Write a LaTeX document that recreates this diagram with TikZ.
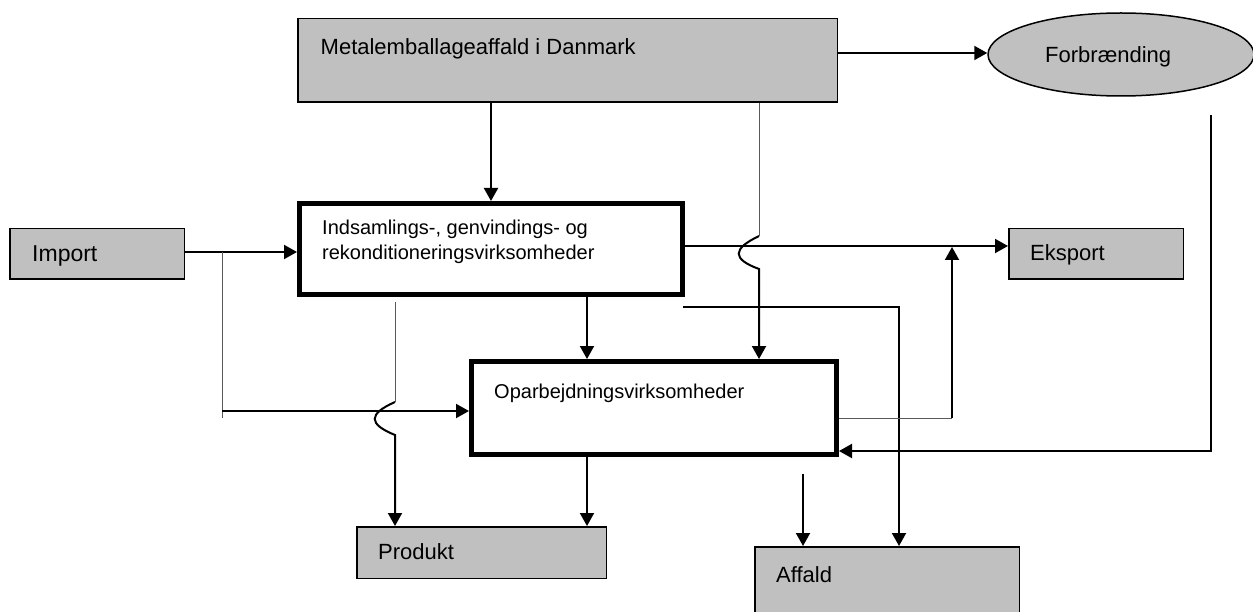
\documentclass[tikz,border=0pt]{standalone}
\usepackage{fontspec}
\setmainfont{Liberation Sans}
\usetikzlibrary{arrows.meta,shapes.geometric}
\definecolor{boxgray}{HTML}{C0C0C0}
\begin{document}
\begin{tikzpicture}[x=1pt,y=-1pt,
  gbox/.style={draw, line width=1.5pt, fill=boxgray, inner sep=0pt, anchor=north west},
  tbox/.style={draw, line width=5pt, fill=white, inner sep=0pt, anchor=north west},
  conn/.style={line width=2pt},
  arr/.style={line width=2pt, -{Triangle[length=13pt,width=14pt]}},
  thinline/.style={line width=1pt, black!65},
  lbl/.style={inner sep=0pt, anchor=base west},
  fa/.style={font=\fontsize{22}{26}\selectfont},
  fb/.style={font=\fontsize{20}{25}\selectfont},
  fc/.style={font=\fontsize{23}{27}\selectfont},
]
\useasboundingbox (0,0) rectangle (1253,612);
\clip (0,0) rectangle (1253,612);

% boxes
\node[gbox, minimum width=539.5pt, minimum height=83.5pt] (metal) at (297,18) {};
\node[draw, line width=1.5pt, fill=boxgray, ellipse, inner sep=0pt,
      minimum width=266pt, minimum height=83pt] (forb) at (1121,54.5) {};
\node[tbox, minimum width=383pt, minimum height=91pt] (ind) at (297,201) {};
\node[gbox, minimum width=174.5pt, minimum height=50.5pt] (imp) at (9,228) {};
\node[gbox, minimum width=174.5pt, minimum height=50.5pt] (eks) at (1008,228) {};
\node[tbox, minimum width=365pt, minimum height=93pt] (opar) at (469,359) {};
\node[gbox, minimum width=249.5pt, minimum height=51.5pt] (prod) at (356,526) {};
\node[gbox, minimum width=264.5pt, minimum height=102.5pt] (aff) at (754,546) {};

% texts
\node[lbl, fa] (metalt) at (320.5,55) {Metalemballageaffald i Danmark};
\node[lbl, fa] (forbt) at (1045,63) {Forbrænding};
\node[lbl, fb] (indt1) at (322,235) {Indsamlings-, genvindings- og};
\node[lbl, fb] (indt2) at (322,260) {rekonditioneringsvirksomheder};
\node[lbl, fc] (impt) at (32,262) {Import};
\node[lbl, fa] (ekst) at (1030,261) {Eksport};
\node[lbl, fb] (opart) at (494,398) {Oparbejdningsvirksomheder};
\node[lbl, fa] (prodt) at (378,559) {Produkt};
\node[lbl, fa] (afft) at (776,582) {Affald};

% helper coordinates
\coordinate (y53) at (0,53);
\coordinate (y246) at (0,246);
\coordinate (y252) at (0,252);
\coordinate (y411) at (0,411);
\coordinate (y418) at (0,418);
\coordinate (y451) at (0,451);
\coordinate (x395) at (395,0);
\coordinate (x491) at (491,0);
\coordinate (x587) at (587,0);
\coordinate (x759) at (759,0);
\coordinate (x803) at (803,0);
\coordinate (x899) at (899,0);
\coordinate (x952) at (952,0);
\coordinate (x1211) at (1211,0);
\coordinate (ja) at (759,236);
\coordinate (jb) at (759,269);
\coordinate (jc) at (395,402);
\coordinate (jd) at (395,435);
\coordinate (ks) at (395,302);
\coordinate (br1) at (222,252);
\coordinate (br2) at (222,418);
\coordinate (br3) at (222,411);
\coordinate (af1) at (683,307);
\coordinate (af2) at (899,307);
\coordinate (op1) at (952,418);
\coordinate (fb1) at (1211,115);
\coordinate (fb2) at (1211,451);
\coordinate (ob1) at (803,474);

% connectors
\draw[arr] (metal.east |- y53) -- (forb.west |- y53);
\draw[arr] (metal.south -| x491) -- (ind.north -| x491);
\draw[thinline] (metal.south -| x759) -- (ja);
\draw[arr] (ja) .. controls +(-27,13) and +(-27,-10) .. (jb) -- (opar.north -| x759);
\draw[arr] (imp.east |- y252) -- (ind.west |- y252);
\draw[thinline] (br1) -- (br2);
\draw[arr] (br3) -- (opar.west |- y411);
\draw[thinline] (ks) -- (jc);
\draw[arr] (jc) .. controls +(-27,12) and +(-27,-11) .. (jd) -- (prod.north -| x395);
\draw[arr] (ind.south -| x587) -- (opar.north -| x587);
\draw[arr] (ind.east |- y246) -- (eks.west |- y246);
\draw[arr] (af1) -- (af2) -- (aff.north -| x899);
\draw[thinline] (opar.east |- y418) -- (op1);
\draw[arr] (op1) -- ([yshift=-1pt]x952 |- y246);
\draw[arr] (fb1) -- (fb2) -- (opar.east |- y451);
\draw[arr] (opar.south -| x587) -- (prod.north -| x587);
\draw[arr] (ob1) -- (aff.north -| x803);
\end{tikzpicture}
\end{document}
